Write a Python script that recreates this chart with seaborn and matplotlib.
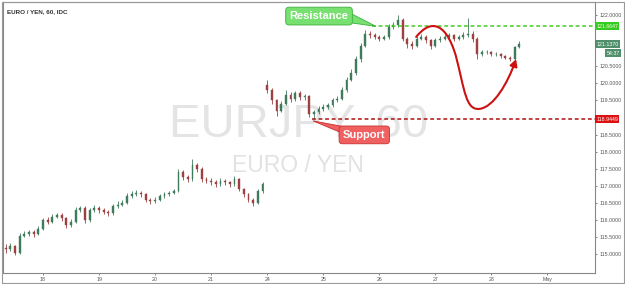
import numpy as np
import pandas as pd
import seaborn as sns
import matplotlib
matplotlib.use("Agg")
import matplotlib.pyplot as plt
from matplotlib.patches import Rectangle, Polygon, FancyArrowPatch
from matplotlib.path import Path

# ---------------- data (2-hour candles) ----------------
opens = [115.20, 115.15, 115.25, 115.05, 115.55, 115.60, 115.65, 115.60, 115.75, 116.00,
         115.95, 116.10, 116.15, 116.05, 115.85, 115.95, 116.30, 116.35, 116.00, 116.30,
         116.35, 116.30, 116.25, 116.20, 116.40, 116.45, 116.50, 116.70, 116.75, 116.80,
         116.75, 116.60, 116.55, 116.60, 116.70, 116.75, 116.80, 116.85, 117.40, 117.25,
         117.20, 117.60, 117.50, 117.20, 117.15, 117.10, 117.05, 117.15, 117.10, 117.05,
         117.20, 116.90, 116.75, 116.60, 116.50, 116.85, 119.95, 119.80, 119.50, 119.20,
         119.40, 119.65, 119.55, 119.70, 119.60, 119.62, 119.10, 119.15, 119.25, 119.30,
         119.35, 119.50, 119.55, 119.80, 120.10, 120.30, 120.70, 121.10, 121.45, 121.40,
         121.35, 121.30, 121.35, 121.65, 121.70, 121.85, 121.30, 121.15, 121.10, 121.30,
         121.35, 121.25, 121.10, 121.25, 121.30, 121.35, 121.40, 121.30, 121.35, 121.40,
         121.45, 121.30, 120.85, 120.90, 120.92, 120.85, 120.86, 120.80, 120.75, 120.70,
         121.05]
closes = [115.15, 115.25, 115.05, 115.55, 115.60, 115.65, 115.60, 115.75, 116.00, 115.95,
          116.10, 116.15, 116.05, 115.85, 115.95, 116.30, 116.35, 116.00, 116.30, 116.35,
          116.30, 116.25, 116.20, 116.40, 116.45, 116.50, 116.70, 116.75, 116.80, 116.75,
          116.60, 116.55, 116.60, 116.70, 116.75, 116.80, 116.85, 117.40, 117.25, 117.20,
          117.60, 117.50, 117.20, 117.15, 117.10, 117.05, 117.15, 117.10, 117.05, 117.20,
          116.90, 116.75, 116.60, 116.50, 116.85, 117.05, 119.80, 119.50, 119.20, 119.40,
          119.65, 119.55, 119.70, 119.60, 119.62, 119.10, 119.15, 119.25, 119.30, 119.35,
          119.50, 119.55, 119.80, 120.10, 120.30, 120.70, 121.10, 121.45, 121.40, 121.35,
          121.30, 121.35, 121.65, 121.70, 121.85, 121.30, 121.15, 121.10, 121.30, 121.35,
          121.25, 121.10, 121.25, 121.30, 121.35, 121.40, 121.30, 121.35, 121.40, 121.45,
          121.30, 120.85, 120.90, 120.92, 120.85, 120.86, 120.80, 120.75, 120.70, 121.05,
          121.137]
highs = [115.30, 115.32, 115.28, 115.62, 115.68, 115.72, 115.70, 115.82, 116.05, 116.08,
         116.18, 116.22, 116.20, 116.10, 116.02, 116.38, 116.42, 116.40, 116.36, 116.45,
         116.40, 116.36, 116.30, 116.48, 116.55, 116.58, 116.78, 116.85, 116.88, 116.85,
         116.80, 116.66, 116.68, 116.76, 116.82, 116.86, 116.92, 117.48, 117.45, 117.32,
         117.80, 117.68, 117.55, 117.26, 117.22, 117.16, 117.22, 117.20, 117.14, 117.28,
         117.24, 116.95, 116.80, 116.66, 116.92, 117.12, 120.10, 119.85, 119.55, 119.48,
         119.80, 119.75, 119.78, 119.76, 119.68, 119.66, 119.22, 119.32, 119.38, 119.42,
         119.58, 119.64, 119.88, 120.18, 120.40, 120.78, 121.18, 121.55, 121.52, 121.46,
         121.40, 121.42, 121.72, 121.80, 122.00, 121.90, 121.35, 121.22, 121.38, 121.45,
         121.40, 121.30, 121.32, 121.38, 121.44, 121.48, 121.45, 121.42, 121.50, 121.90,
         121.52, 121.35, 120.98, 120.96, 120.95, 120.90, 120.88, 120.82, 120.78, 121.10,
         121.22]
lows = [115.05, 115.10, 114.98, 115.02, 115.50, 115.55, 115.52, 115.56, 115.70, 115.90,
        115.92, 116.05, 115.98, 115.78, 115.80, 115.92, 116.25, 115.92, 115.96, 116.25,
        116.22, 116.18, 116.12, 116.16, 116.35, 116.40, 116.46, 116.65, 116.70, 116.68,
        116.52, 116.48, 116.50, 116.55, 116.65, 116.70, 116.76, 116.82, 117.18, 117.12,
        117.15, 117.40, 117.12, 117.08, 117.02, 116.98, 117.00, 117.04, 116.98, 117.00,
        116.84, 116.68, 116.52, 116.42, 116.46, 116.80, 119.70, 119.40, 119.05, 119.15,
        119.35, 119.45, 119.48, 119.52, 119.50, 119.00, 118.96, 119.10, 119.20, 119.24,
        119.30, 119.44, 119.50, 119.75, 120.05, 120.25, 120.62, 121.05, 121.32, 121.28,
        121.22, 121.25, 121.30, 121.58, 121.65, 121.22, 121.02, 121.00, 121.05, 121.25,
        121.18, 121.00, 121.05, 121.20, 121.25, 121.30, 121.22, 121.26, 121.30, 121.35,
        121.20, 120.72, 120.80, 120.84, 120.80, 120.78, 120.74, 120.70, 120.64, 120.66,
        121.02]

day_labels = ["18", "19", "20", "21", "24", "25", "26", "27", "28", "May"]
day_starts = [8, 20, 32, 44, 56, 68, 80, 92, 104, 116]

price_ticks = [115.0, 115.5, 116.0, 116.5, 117.0, 117.5, 118.0, 118.5, 119.5, 120.0,
               120.5, 122.0]

resistance = 121.6647
support = 118.9449
last_price = 121.1370
countdown = "54:37"

df = pd.DataFrame({"open": opens, "close": closes, "high": highs, "low": lows})
df["idx"] = np.arange(len(df))
df["up"] = df["close"] >= df["open"]

# ---------------- figure ----------------
sns.set_theme(style="white")
plt.rcParams["font.family"] = ["Liberation Sans", "DejaVu Sans"]

fig = plt.figure(figsize=(6.25, 2.84), dpi=100)
ax = fig.add_axes([3 / 625, 11.3 / 284, 592 / 625, 270.7 / 284])

up_col = "#3f7a5c"
dn_col = "#9c4040"
colors = np.where(df["up"], up_col, dn_col)

# watermark
ax.text(62.7, 118.43, "EURJPY, 60", fontsize=34, color="#e4e4e4", ha="center",
        va="baseline", zorder=0)
ax.text(62.6, 117.415, "EURO / YEN", fontsize=16.5, color="#e2e2e2", ha="center",
        va="baseline", zorder=0)

# candles
ax.vlines(df["idx"], df["low"], df["high"], colors=colors, lw=0.6, zorder=3)
body_bottom = np.minimum(df["open"], df["close"])
body_h = np.maximum(np.abs(df["close"] - df["open"]), 0.015)
ax.bar(df["idx"], body_h, bottom=body_bottom, width=0.4, color=colors,
       edgecolor=colors, linewidth=0.3, zorder=4)

# support / resistance lines
res_df = pd.DataFrame({"x": [78.5, 130], "y": [resistance, resistance]})
sup_df = pd.DataFrame({"x": [65.5, 130], "y": [support, support]})
sns.lineplot(data=res_df, x="x", y="y", ax=ax, color="#44cc22", lw=1.1,
             linestyle=(0, (2.5, 1.8)), zorder=5)
sns.lineplot(data=sup_df, x="x", y="y", ax=ax, color="#b01010", lw=1.1,
             linestyle=(0, (2.5, 1.8)), zorder=5)

# red curved arrow
verts = [(87.9, 121.35), (90.5, 121.8), (94.0, 121.9), (96.4, 120.8),
         (98.3, 119.8), (98.5, 119.2), (101.5, 119.25),
         (104.5, 119.3), (107.5, 120.0), (109.3, 120.7)]
codes = [Path.MOVETO] + [Path.CURVE4] * 9
arrow = FancyArrowPatch(path=Path(verts, codes), arrowstyle="-|>,head_length=4,head_width=2.2",
                        color="#cc1111", lw=1.5, zorder=6)
ax.add_patch(arrow)

# Resistance callout
ax.add_patch(Polygon([(73.0, 122.10), (73.0, 121.78), (79.3, 121.66)], closed=True,
                     facecolor="#78e070", edgecolor="#3cb03c", lw=0.6, zorder=7))
ax.text(67.1, 121.96, "Resistance", fontsize=8, fontweight="bold", color="white",
        ha="center", va="center", zorder=8,
        bbox=dict(boxstyle="round,pad=0.35,rounding_size=0.3", fc="#78e070", ec="#3cb03c", lw=0.6))

# Support callout
ax.add_patch(Polygon([(65.8, 118.90), (72.8, 118.72), (72.8, 118.50)], closed=True,
                     facecolor="#f06060", edgecolor="#c83030", lw=0.6, zorder=7))
ax.text(76.8, 118.49, "Support", fontsize=8, fontweight="bold", color="white",
        ha="center", va="center", zorder=8,
        bbox=dict(boxstyle="round,pad=0.35,rounding_size=0.3", fc="#f06060", ec="#c83030", lw=0.6))

# axes
ax.set_xlim(-0.57, 126.2)
ax.set_ylim(114.465, 122.371)
ax.yaxis.tick_right()
ax.set_yticks(price_ticks)
ax.set_yticklabels([f"{v:.4f}" for v in price_ticks])
ax.set_xticks(day_starts)
ax.set_xticklabels(day_labels)
ax.tick_params(axis="both", which="both", labelsize=3.8, colors="#555555",
               length=1.5, width=0.5, pad=1.5)
ax.tick_params(axis="y", right=True, left=False)
ax.tick_params(axis="x", bottom=True)
for s in ax.spines.values():
    s.set_color("#888888")
    s.set_linewidth(0.8)
ax.set_xlabel("")
ax.set_ylabel("")
ax.grid(False)

# right-side price labels
ytr = ax.get_yaxis_transform()
ax.text(1.002, resistance, "121.6647", transform=ytr, fontsize=3.8, color="#ffffe0",
        ha="left", va="center", zorder=10, clip_on=False,
        bbox=dict(boxstyle="square,pad=0.25", fc="#33cc22", ec="none"))
ax.text(1.002, support, "118.9449", transform=ytr, fontsize=3.8, color="#ffffff",
        ha="left", va="center", zorder=10, clip_on=False,
        bbox=dict(boxstyle="square,pad=0.25", fc="#dd1111", ec="none"))
ax.text(1.002, last_price, "121.1370", transform=ytr, fontsize=3.8, color="#ffffff",
        ha="left", va="center", zorder=10, clip_on=False,
        bbox=dict(boxstyle="square,pad=0.25", fc="#4f8f6a", ec="none"))
ax.text(1.042, 120.88, countdown, transform=ytr, fontsize=3.8, color="#ffffff",
        ha="right", va="center", zorder=10, clip_on=False,
        bbox=dict(boxstyle="square,pad=0.25", fc="#4f8f6a", ec="none"))

# title
ax.text(0.007, 0.975, "EURO / YEN, 60, IDC", transform=ax.transAxes, fontsize=4.5,
        fontweight="bold", color="#333333", ha="left", va="top")

# outer frame
fig.patches.append(Rectangle((0.0035, 0.004), 0.995, 0.99, transform=fig.transFigure,
                             fill=False, edgecolor="#999999", lw=0.8))

fig.savefig("out.png", dpi=100, facecolor="white")
